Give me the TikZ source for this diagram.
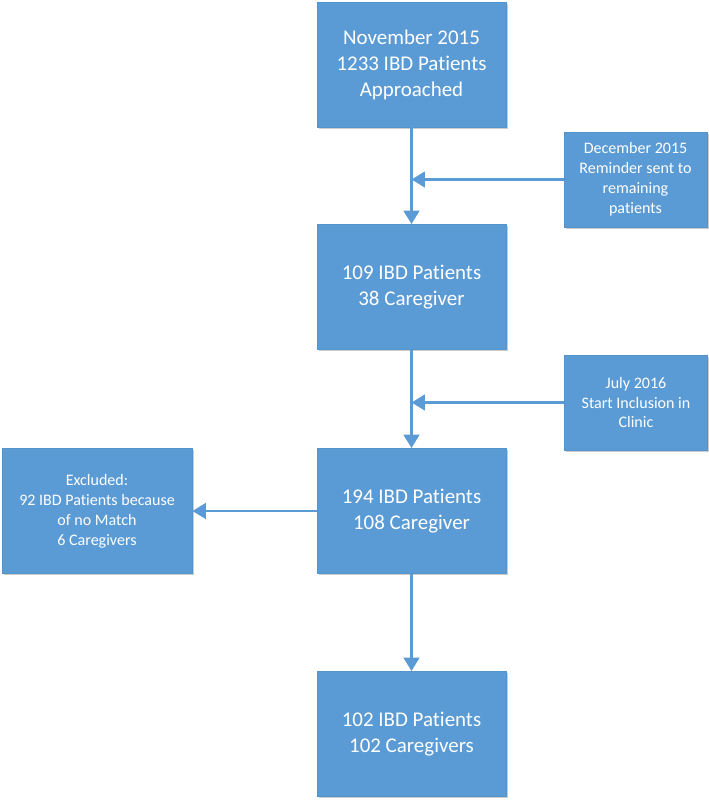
\documentclass[tikz,border=0pt]{standalone}
\usepackage{fontspec}
\setmainfont{Carlito}[Ligatures={NoCommon}]
\usetikzlibrary{arrows.meta,shadows}

\definecolor{boxblue}{HTML}{5B9BD5}
\definecolor{edgeblue}{HTML}{5593CB}

\tikzset{
    flowbox/.style={draw=edgeblue, line width=0.6pt, fill=boxblue, text=white,
        align=center, inner sep=2pt,
        drop shadow={shadow xshift=1.2pt, shadow yshift=-1.2pt, fill=black, opacity=0.2}},
    mainbox/.style={flowbox, minimum width=4.725cm, minimum height=3.125cm,
        font=\fontsize{14.9}{18.5}\selectfont},
    sidebox/.style={flowbox, minimum width=3.575cm, minimum height=2.375cm,
        font=\fontsize{11.4}{14.2}\selectfont},
    flowline/.style={draw=boxblue, line width=1.9pt,
        -{Triangle[width=11pt,length=9.5pt]}}
}

\begin{document}
\begin{tikzpicture}
        % Frame of the picture
        \useasboundingbox (0,0) rectangle (17.725,-20.05);

        % Main column
        \node[mainbox] (approached) at (10.2875,-1.6125) {November 2015\\1233 IBD Patients\\Approached};
        \node[mainbox] (first)      at (10.2875,-7.175)  {109 IBD Patients\\38 Caregiver};
        \node[mainbox] (second)     at (10.2875,-12.775) {194 IBD Patients\\108 Caregiver};
        \node[mainbox] (final)      at (10.2875,-18.35)  {102 IBD Patients\\102 Caregivers};

        % Side boxes
        \node[sidebox] (reminder)  at (15.8875,-4.4875)  {December 2015\\Reminder sent to\\remaining\\patients};
        \node[sidebox] (inclusion) at (15.9,-10.0625)    {July 2016\\Start Inclusion in\\Clinic};
        \node[sidebox, minimum width=4.75cm, minimum height=3.125cm] (excluded) at (2.425,-12.775)
            {Excluded:\\92 IBD Patients because\\of no Match\\6 Caregivers};

        % Join points on the main line
        \coordinate (join_1) at (approached.south |- reminder.west);
        \coordinate (join_2) at (first.south |- inclusion.west);

        % Connectors
        \draw[flowline] (approached) -- (first);
        \draw[flowline] (reminder.west) -- (join_1);
        \draw[flowline] (first) -- (second);
        \draw[flowline] (inclusion.west) -- (join_2);
        \draw[flowline] (second) -- (excluded);
        \draw[flowline] (second) -- (final);
    \end{tikzpicture}
\end{document}
